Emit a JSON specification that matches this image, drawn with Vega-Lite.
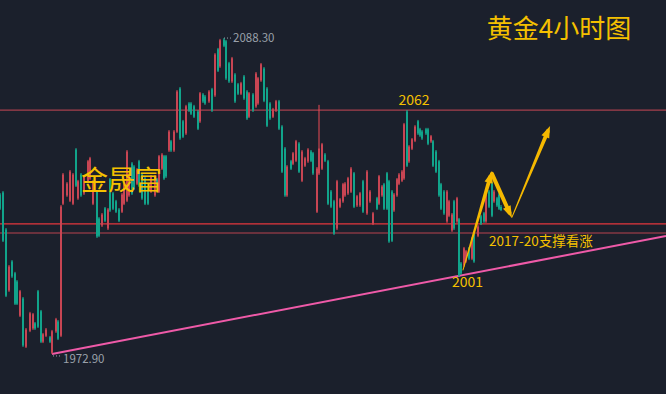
{
  "$schema": "https://vega.github.io/schema/vega-lite/v6.json",
  "width": 666,
  "height": 394,
  "autosize": {"type": "none"},
  "padding": 0,
  "background": "#1b202c",
  "config": {"view": {"stroke": null}},
  "datasets": {
    "candles": [
      {"t":0,"o":2031.2,"h":2031.7,"l":2025.5,"c":2026.0},
      {"t":3,"o":2031.9,"h":2032.4,"l":2013.8,"c":2014.3},
      {"t":6,"o":2018.4,"h":2018.9,"l":1993.7,"c":1994.2},
      {"t":9,"o":1996.1,"h":2005.4,"l":1995.6,"c":2004.9},
      {"t":12,"o":2006.7,"h":2007.2,"l":2000.7,"c":2001.2},
      {"t":15,"o":2002.4,"h":2002.9,"l":1990.8,"c":1991.3},
      {"t":17,"o":1999.4,"h":1999.9,"l":1990.8,"c":1991.3},
      {"t":20,"o":1986.9,"h":1996.3,"l":1986.4,"c":1995.8},
      {"t":23,"o":1993.2,"h":1993.7,"l":1975.5,"c":1976.0},
      {"t":26,"o":1975.6,"h":1982.4,"l":1975.1,"c":1981.9},
      {"t":30,"o":1981.4,"h":1988.3,"l":1980.9,"c":1987.8},
      {"t":33,"o":1982.2,"h":1987.9,"l":1981.7,"c":1987.4},
      {"t":35,"o":1984.1,"h":1984.6,"l":1981.7,"c":1982.2},
      {"t":38,"o":1995.8,"h":1996.3,"l":1982.4,"c":1982.9},
      {"t":41,"o":1988.5,"h":1989.0,"l":1976.9,"c":1977.4},
      {"t":43,"o":1977.4,"h":1980.6,"l":1976.9,"c":1980.1},
      {"t":46,"o":1979.6,"h":1982.4,"l":1979.1,"c":1981.9},
      {"t":50,"o":1979.0,"h":1979.5,"l":1976.9,"c":1977.4},
      {"t":52,"o":1973.4,"h":1981.7,"l":1972.9,"c":1981.2},
      {"t":56,"o":1981.1,"h":1986.1,"l":1980.6,"c":1985.6},
      {"t":58,"o":1984.8,"h":1985.3,"l":1978.0,"c":1978.5},
      {"t":61,"o":1979.6,"h":2027.3,"l":1979.1,"c":2026.8},
      {"t":63,"o":2027.8,"h":2039.0,"l":2027.3,"c":2038.5},
      {"t":67,"o":2030.8,"h":2035.7,"l":2030.3,"c":2035.2},
      {"t":70,"o":2028.9,"h":2040.1,"l":2028.4,"c":2039.6},
      {"t":73,"o":2027.8,"h":2039.0,"l":2027.3,"c":2038.5},
      {"t":76,"o":2047.6,"h":2048.1,"l":2033.9,"c":2034.4},
      {"t":78,"o":2029.7,"h":2036.5,"l":2029.2,"c":2036.0},
      {"t":81,"o":2038.5,"h":2039.0,"l":2030.3,"c":2030.8},
      {"t":84,"o":2031.5,"h":2038.3,"l":2031.0,"c":2037.8},
      {"t":88,"o":2035.9,"h":2043.8,"l":2035.4,"c":2043.3},
      {"t":90,"o":2037.0,"h":2044.9,"l":2036.5,"c":2044.4},
      {"t":93,"o":2027.8,"h":2036.5,"l":2027.3,"c":2036.0},
      {"t":97,"o":2032.3,"h":2032.8,"l":2015.3,"c":2015.8},
      {"t":99,"o":2022.4,"h":2022.9,"l":2015.6,"c":2016.1},
      {"t":102,"o":2019.8,"h":2024.4,"l":2019.3,"c":2023.9},
      {"t":105,"o":2026.1,"h":2026.6,"l":2021.1,"c":2021.6},
      {"t":108,"o":2018.7,"h":2026.2,"l":2018.2,"c":2025.7},
      {"t":110,"o":2036.7,"h":2037.2,"l":2024.8,"c":2025.3},
      {"t":113,"o":2031.6,"h":2032.1,"l":2025.5,"c":2026.0},
      {"t":116,"o":2028.7,"h":2029.2,"l":2024.4,"c":2024.9},
      {"t":119,"o":2025.7,"h":2026.2,"l":2021.1,"c":2021.6},
      {"t":122,"o":2024.9,"h":2031.7,"l":2024.4,"c":2031.2},
      {"t":124,"o":2027.8,"h":2035.4,"l":2027.3,"c":2034.9},
      {"t":127,"o":2028.9,"h":2047.4,"l":2028.4,"c":2046.9},
      {"t":129,"o":2030.8,"h":2039.0,"l":2030.3,"c":2038.5},
      {"t":132,"o":2042.5,"h":2043.0,"l":2031.0,"c":2031.5},
      {"t":134,"o":2041.4,"h":2041.9,"l":2032.8,"c":2033.3},
      {"t":137,"o":2035.1,"h":2040.8,"l":2034.6,"c":2040.3},
      {"t":139,"o":2043.3,"h":2043.8,"l":2033.9,"c":2034.4},
      {"t":142,"o":2038.5,"h":2039.0,"l":2029.2,"c":2029.7},
      {"t":145,"o":2037.1,"h":2037.6,"l":2027.3,"c":2027.8},
      {"t":148,"o":2033.4,"h":2033.9,"l":2027.3,"c":2027.8},
      {"t":151,"o":2032.2,"h":2038.3,"l":2031.7,"c":2037.8},
      {"t":155,"o":2030.8,"h":2038.3,"l":2030.3,"c":2037.8},
      {"t":157,"o":2036.7,"h":2037.2,"l":2033.9,"c":2034.4},
      {"t":159,"o":2032.2,"h":2045.6,"l":2031.7,"c":2045.1},
      {"t":162,"o":2040.6,"h":2046.3,"l":2040.1,"c":2045.8},
      {"t":164,"o":2045.1,"h":2045.6,"l":2036.5,"c":2037.0},
      {"t":166,"o":2045.1,"h":2045.6,"l":2037.2,"c":2037.7},
      {"t":169,"o":2047.2,"h":2054.7,"l":2046.7,"c":2054.2},
      {"t":171,"o":2050.6,"h":2051.1,"l":2046.7,"c":2047.2},
      {"t":174,"o":2047.2,"h":2054.7,"l":2046.7,"c":2054.2},
      {"t":177,"o":2054.1,"h":2069.3,"l":2053.6,"c":2068.8},
      {"t":180,"o":2069.9,"h":2070.4,"l":2051.1,"c":2051.6},
      {"t":183,"o":2057.9,"h":2058.4,"l":2051.8,"c":2052.3},
      {"t":186,"o":2053.4,"h":2063.9,"l":2052.9,"c":2063.4},
      {"t":189,"o":2064.4,"h":2064.9,"l":2061.3,"c":2061.8},
      {"t":191,"o":2064.4,"h":2064.9,"l":2060.2,"c":2060.7},
      {"t":194,"o":2063.4,"h":2063.9,"l":2059.1,"c":2059.6},
      {"t":198,"o":2061.5,"h":2062.0,"l":2054.7,"c":2055.2},
      {"t":200,"o":2057.8,"h":2068.6,"l":2057.3,"c":2068.1},
      {"t":203,"o":2067.7,"h":2068.2,"l":2064.6,"c":2065.1},
      {"t":205,"o":2067.0,"h":2067.5,"l":2063.9,"c":2064.4},
      {"t":209,"o":2065.1,"h":2069.3,"l":2064.6,"c":2068.8},
      {"t":212,"o":2069.6,"h":2070.1,"l":2061.3,"c":2061.8},
      {"t":215,"o":2067.3,"h":2082.8,"l":2066.8,"c":2082.3},
      {"t":218,"o":2084.2,"h":2084.7,"l":2075.9,"c":2076.4},
      {"t":220,"o":2077.9,"h":2088.0,"l":2077.4,"c":2087.5},
      {"t":224,"o":2087.8,"h":2088.3,"l":2085.0,"c":2085.5},
      {"t":226,"o":2087.1,"h":2087.6,"l":2073.0,"c":2073.5},
      {"t":229,"o":2079.1,"h":2079.6,"l":2071.9,"c":2072.4},
      {"t":232,"o":2072.4,"h":2081.4,"l":2071.9,"c":2080.9},
      {"t":235,"o":2075.0,"h":2075.5,"l":2064.6,"c":2065.1},
      {"t":238,"o":2071.4,"h":2071.9,"l":2067.5,"c":2068.0},
      {"t":241,"o":2068.0,"h":2072.3,"l":2067.5,"c":2071.8},
      {"t":244,"o":2074.3,"h":2074.8,"l":2065.7,"c":2066.2},
      {"t":247,"o":2068.8,"h":2069.3,"l":2058.4,"c":2058.9},
      {"t":249,"o":2059.6,"h":2068.6,"l":2059.1,"c":2068.1},
      {"t":253,"o":2067.7,"h":2068.2,"l":2061.3,"c":2061.8},
      {"t":256,"o":2063.3,"h":2075.9,"l":2062.8,"c":2075.4},
      {"t":258,"o":2064.4,"h":2074.1,"l":2063.9,"c":2073.6},
      {"t":261,"o":2072.8,"h":2079.2,"l":2072.3,"c":2078.7},
      {"t":264,"o":2077.2,"h":2077.7,"l":2064.9,"c":2065.4},
      {"t":267,"o":2069.9,"h":2070.4,"l":2055.8,"c":2056.3},
      {"t":270,"o":2064.4,"h":2064.9,"l":2058.4,"c":2058.9},
      {"t":273,"o":2059.6,"h":2062.8,"l":2059.1,"c":2062.3},
      {"t":276,"o":2061.8,"h":2065.7,"l":2061.3,"c":2065.2},
      {"t":279,"o":2065.2,"h":2065.7,"l":2054.7,"c":2055.2},
      {"t":282,"o":2056.0,"h":2056.5,"l":2039.0,"c":2039.5},
      {"t":285,"o":2048.0,"h":2048.5,"l":2030.3,"c":2030.8},
      {"t":287,"o":2030.8,"h":2041.9,"l":2030.3,"c":2041.4},
      {"t":291,"o":2043.3,"h":2043.8,"l":2040.1,"c":2040.6},
      {"t":293,"o":2042.4,"h":2046.7,"l":2041.9,"c":2046.2},
      {"t":296,"o":2043.5,"h":2051.1,"l":2043.0,"c":2050.6},
      {"t":299,"o":2049.8,"h":2050.3,"l":2039.0,"c":2039.5},
      {"t":302,"o":2036.2,"h":2047.4,"l":2035.7,"c":2046.9},
      {"t":305,"o":2041.7,"h":2044.9,"l":2041.2,"c":2044.4},
      {"t":308,"o":2043.2,"h":2048.1,"l":2042.7,"c":2047.6},
      {"t":311,"o":2046.9,"h":2047.4,"l":2043.0,"c":2043.5},
      {"t":313,"o":2046.2,"h":2046.7,"l":2038.3,"c":2038.8},
      {"t":317,"o":2024.9,"h":2041.2,"l":2024.4,"c":2040.7},
      {"t":319,"o":2038.8,"h":2063.9,"l":2038.3,"c":2048.0},
      {"t":322,"o":2040.6,"h":2050.0,"l":2040.1,"c":2049.5},
      {"t":325,"o":2045.8,"h":2046.3,"l":2043.0,"c":2043.5},
      {"t":328,"o":2043.3,"h":2043.8,"l":2027.3,"c":2027.8},
      {"t":331,"o":2032.3,"h":2032.8,"l":2026.2,"c":2026.7},
      {"t":334,"o":2028.7,"h":2029.2,"l":2016.4,"c":2016.9},
      {"t":337,"o":2018.7,"h":2036.5,"l":2018.2,"c":2036.0},
      {"t":340,"o":2026.7,"h":2029.9,"l":2026.2,"c":2029.4},
      {"t":343,"o":2028.6,"h":2035.4,"l":2028.1,"c":2034.9},
      {"t":345,"o":2030.8,"h":2035.7,"l":2030.3,"c":2035.2},
      {"t":348,"o":2031.5,"h":2037.6,"l":2031.0,"c":2037.1},
      {"t":351,"o":2032.2,"h":2041.2,"l":2031.7,"c":2040.7},
      {"t":354,"o":2038.9,"h":2039.4,"l":2026.2,"c":2026.7},
      {"t":357,"o":2027.1,"h":2031.0,"l":2026.6,"c":2030.5},
      {"t":360,"o":2027.1,"h":2032.1,"l":2026.6,"c":2031.6},
      {"t":363,"o":2036.0,"h":2036.5,"l":2024.4,"c":2024.9},
      {"t":367,"o":2024.2,"h":2040.1,"l":2023.7,"c":2039.6},
      {"t":370,"o":2028.6,"h":2032.8,"l":2028.1,"c":2032.3},
      {"t":373,"o":2020.5,"h":2024.8,"l":2020.0,"c":2024.3},
      {"t":377,"o":2029.8,"h":2030.3,"l":2025.5,"c":2026.0},
      {"t":379,"o":2027.8,"h":2038.3,"l":2027.3,"c":2037.8},
      {"t":382,"o":2030.8,"h":2034.6,"l":2030.3,"c":2034.1},
      {"t":384,"o":2034.9,"h":2035.4,"l":2025.5,"c":2026.0},
      {"t":387,"o":2038.9,"h":2039.4,"l":2025.5,"c":2026.0},
      {"t":389,"o":2036.0,"h":2036.5,"l":2013.5,"c":2014.0},
      {"t":392,"o":2032.3,"h":2032.8,"l":2013.8,"c":2014.3},
      {"t":394,"o":2025.3,"h":2031.7,"l":2024.8,"c":2031.2},
      {"t":397,"o":2030.8,"h":2037.2,"l":2030.3,"c":2036.7},
      {"t":399,"o":2035.1,"h":2039.0,"l":2034.6,"c":2038.5},
      {"t":402,"o":2036.2,"h":2040.1,"l":2035.7,"c":2039.6},
      {"t":404,"o":2037.0,"h":2057.3,"l":2036.5,"c":2056.8},
      {"t":407,"o":2061.5,"h":2062.0,"l":2041.2,"c":2041.7},
      {"t":409,"o":2043.2,"h":2049.2,"l":2042.7,"c":2048.7},
      {"t":412,"o":2047.9,"h":2051.8,"l":2047.4,"c":2051.3},
      {"t":415,"o":2050.8,"h":2056.5,"l":2050.3,"c":2056.0},
      {"t":418,"o":2057.9,"h":2058.4,"l":2052.9,"c":2053.4},
      {"t":420,"o":2055.0,"h":2055.5,"l":2052.2,"c":2052.7},
      {"t":422,"o":2054.2,"h":2054.7,"l":2051.1,"c":2051.6},
      {"t":426,"o":2055.0,"h":2055.5,"l":2052.9,"c":2053.4},
      {"t":428,"o":2055.0,"h":2055.5,"l":2049.2,"c":2049.7},
      {"t":431,"o":2050.5,"h":2052.9,"l":2050.0,"c":2052.4},
      {"t":433,"o":2050.6,"h":2051.1,"l":2041.2,"c":2041.7},
      {"t":436,"o":2046.9,"h":2047.4,"l":2039.0,"c":2039.5},
      {"t":439,"o":2043.3,"h":2043.8,"l":2030.3,"c":2030.8},
      {"t":441,"o":2034.9,"h":2035.4,"l":2025.5,"c":2026.0},
      {"t":444,"o":2032.3,"h":2032.8,"l":2023.7,"c":2024.2},
      {"t":447,"o":2021.3,"h":2032.8,"l":2020.8,"c":2032.3},
      {"t":449,"o":2023.4,"h":2029.2,"l":2022.9,"c":2028.7},
      {"t":452,"o":2018.0,"h":2024.4,"l":2017.5,"c":2023.9},
      {"t":454,"o":2028.7,"h":2029.2,"l":2018.2,"c":2018.7},
      {"t":457,"o":2021.3,"h":2030.3,"l":2020.8,"c":2029.8},
      {"t":459,"o":2022.1,"h":2022.6,"l":2001.0,"c":2001.5},
      {"t":461,"o":2006.0,"h":2006.5,"l":2001.8,"c":2002.3},
      {"t":464,"o":2005.2,"h":2012.0,"l":2004.7,"c":2011.5},
      {"t":466,"o":2006.7,"h":2010.9,"l":2006.2,"c":2010.4},
      {"t":469,"o":2011.5,"h":2012.0,"l":2007.2,"c":2007.7},
      {"t":472,"o":2007.7,"h":2015.6,"l":2007.2,"c":2015.1},
      {"t":474,"o":2016.6,"h":2017.1,"l":2006.2,"c":2006.7},
      {"t":478,"o":2016.1,"h":2020.0,"l":2015.6,"c":2019.5},
      {"t":481,"o":2023.2,"h":2023.7,"l":2020.0,"c":2020.5},
      {"t":484,"o":2024.3,"h":2024.8,"l":2020.8,"c":2021.3},
      {"t":486,"o":2021.3,"h":2031.7,"l":2020.8,"c":2031.2},
      {"t":489,"o":2032.3,"h":2032.8,"l":2026.2,"c":2026.7},
      {"t":492,"o":2035.2,"h":2035.7,"l":2022.9,"c":2023.4},
      {"t":494,"o":2028.6,"h":2032.8,"l":2028.1,"c":2032.3},
      {"t":497,"o":2029.8,"h":2030.3,"l":2026.6,"c":2027.1},
      {"t":499,"o":2031.2,"h":2031.7,"l":2025.5,"c":2026.0},
      {"t":501,"o":2026.6,"h":2027.3,"l":2025.1,"c":2025.5}
    ],
    "levels": [
      {"name": "2062", "price": 2062.0},
      {"name": "upper support", "price": 2020.4},
      {"name": "lower support", "price": 2017.1}
    ],
    "trend": [
      {"t": 52, "price": 1972.9},
      {"t": 666, "price": 2016.0}
    ],
    "arrowLines": [
      {"arrow": "a1", "t": 463, "price": 2003.6, "k": 0},
      {"arrow": "a1", "t": 490.3, "price": 2037.6, "k": 1},
      {"arrow": "a2", "t": 492, "price": 2038.7, "k": 1},
      {"arrow": "a2", "t": 509.4, "price": 2024.6, "k": 1},
      {"arrow": "a3", "t": 512, "price": 2022.9, "k": 0},
      {"arrow": "a3", "t": 547.7, "price": 2054.2, "k": 1}
    ],
    "leaders": [
      {"t": 224, "t2": 232, "price": 2088.3},
      {"t": 53, "t2": 62, "price": 1972.2}
    ]
  },
  "layer": [
    {
      "data": {"name": "levels"},
      "mark": {"type": "rule", "strokeWidth": 1.2},
      "encoding": {
        "y": {"field": "price", "type": "quantitative", "scale": {"domain": [1958.3, 2102.2], "nice": false, "zero": false, "padding": 0}, "axis": null},
        "color": {"field": "name", "type": "nominal", "scale": {"domain": ["2062", "upper support", "lower support"], "range": ["#a63f4c", "#e5363d", "#b9434f"]}, "legend": null}
      }
    },
    {
      "data": {"name": "trend"},
      "mark": {"type": "line", "color": "#ef5aa8", "strokeWidth": 2, "clip": true},
      "encoding": {
        "x": {"field": "t", "type": "quantitative", "scale": {"domain": [0, 666], "nice": false, "zero": false, "padding": 0}, "axis": null},
        "y": {"field": "price", "type": "quantitative", "axis": null}
      }
    },
    {
      "data": {"name": "candles"},
      "mark": {"type": "rule", "strokeWidth": 1},
      "encoding": {
        "x": {"field": "t", "type": "quantitative", "axis": null},
        "y": {"field": "l", "type": "quantitative", "axis": null},
        "y2": {"field": "h"},
        "color": {"condition": {"test": "datum.c > datum.o", "value": "#ec4a55"}, "value": "#16bf9f"}
      }
    },
    {
      "data": {"name": "candles"},
      "mark": {"type": "bar", "width": 2, "orient": "vertical"},
      "encoding": {
        "x": {"field": "t", "type": "quantitative", "axis": null},
        "y": {"field": "o", "type": "quantitative", "axis": null},
        "y2": {"field": "c"},
        "color": {"condition": {"test": "datum.c > datum.o", "value": "#c84553"}, "value": "#11a48b"}
      }
    },
    {
      "data": {"name": "leaders"},
      "mark": {"type": "rule", "color": "#9aa0aa", "strokeWidth": 1, "strokeDash": [1, 2]},
      "encoding": {
        "x": {"field": "t", "type": "quantitative", "axis": null},
        "x2": {"field": "t2"},
        "y": {"field": "price", "type": "quantitative", "axis": null}
      }
    },
    {
      "data": {"name": "arrowLines"},
      "mark": {"type": "trail", "color": "#f5b800"},
      "encoding": {
        "x": {"field": "t", "type": "quantitative", "axis": null},
        "y": {"field": "price", "type": "quantitative", "axis": null},
        "detail": {"field": "arrow", "type": "nominal"},
        "order": {"field": "t", "type": "quantitative"},
        "size": {"field": "k", "type": "quantitative", "scale": {"domain": [0, 1], "range": [1, 4]}, "legend": null}
      }
    },
    {
      "data": {"values": [{"t": 490.3, "price": 2037.6}]},
      "mark": {"type": "point", "shape": "M0,-1L-0.7,1L0.7,1Z", "filled": true, "opacity": 1, "color": "#f5b800", "size": 144, "angle": 16},
      "encoding": {
        "x": {"field": "t", "type": "quantitative", "axis": null},
        "y": {"field": "price", "type": "quantitative", "axis": null}
      }
    },
    {
      "data": {"values": [{"t": 509.4, "price": 2024.6}]},
      "mark": {"type": "point", "shape": "M0,-1L-0.7,1L0.7,1Z", "filled": true, "opacity": 1, "color": "#f5b800", "size": 144, "angle": 154.5},
      "encoding": {
        "x": {"field": "t", "type": "quantitative", "axis": null},
        "y": {"field": "price", "type": "quantitative", "axis": null}
      }
    },
    {
      "data": {"values": [{"t": 547.7, "price": 2054.2}]},
      "mark": {"type": "point", "shape": "M0,-1L-0.7,1L0.7,1Z", "filled": true, "opacity": 1, "color": "#f5b800", "size": 144, "angle": 22.9},
      "encoding": {
        "x": {"field": "t", "type": "quantitative", "axis": null},
        "y": {"field": "price", "type": "quantitative", "axis": null}
      }
    },
    {
      "data": {"values": [{"t": 559, "price": 2091.2, "label": "黄金4小时图"}]},
      "mark": {"type": "text", "font": "Noto Sans CJK SC", "fontSize": 26, "color": "#f5c000", "align": "center", "baseline": "middle"},
      "encoding": {
        "x": {"field": "t", "type": "quantitative", "axis": null},
        "y": {"field": "price", "type": "quantitative", "axis": null},
        "text": {"field": "label"}
      }
    },
    {
      "data": {"values": [{"t": 121.5, "price": 2035.9, "label": "金晟富"}]},
      "mark": {"type": "text", "font": "Noto Sans CJK SC", "fontSize": 27, "color": "#f5c000", "align": "center", "baseline": "middle"},
      "encoding": {
        "x": {"field": "t", "type": "quantitative", "axis": null},
        "y": {"field": "price", "type": "quantitative", "axis": null},
        "text": {"field": "label"}
      }
    },
    {
      "data": {"values": [{"t": 414, "price": 2065.3, "label": "2062"}, {"t": 467.5, "price": 1998.7, "label": "2001"}]},
      "mark": {"type": "text", "font": "Noto Sans CJK SC", "fontSize": 14, "color": "#f5c000", "align": "center", "baseline": "middle"},
      "encoding": {
        "x": {"field": "t", "type": "quantitative", "axis": null},
        "y": {"field": "price", "type": "quantitative", "axis": null},
        "text": {"field": "label"}
      }
    },
    {
      "data": {"values": [{"t": 489, "price": 2013.8, "label": "2017-20支撑看涨"}]},
      "mark": {"type": "text", "font": "Noto Sans CJK SC", "fontSize": 13.5, "color": "#f5c000", "align": "left", "baseline": "middle"},
      "encoding": {
        "x": {"field": "t", "type": "quantitative", "axis": null},
        "y": {"field": "price", "type": "quantitative", "axis": null},
        "text": {"field": "label"}
      }
    },
    {
      "data": {"values": [{"t": 233, "price": 2088.0, "label": "2088.30"}, {"t": 63, "price": 1970.7, "label": "1972.90"}]},
      "mark": {"type": "text", "font": "Noto Sans CJK SC", "fontSize": 11.5, "color": "#9aa0aa", "align": "left", "baseline": "middle"},
      "encoding": {
        "x": {"field": "t", "type": "quantitative", "axis": null},
        "y": {"field": "price", "type": "quantitative", "axis": null},
        "text": {"field": "label"}
      }
    }
  ]
}
